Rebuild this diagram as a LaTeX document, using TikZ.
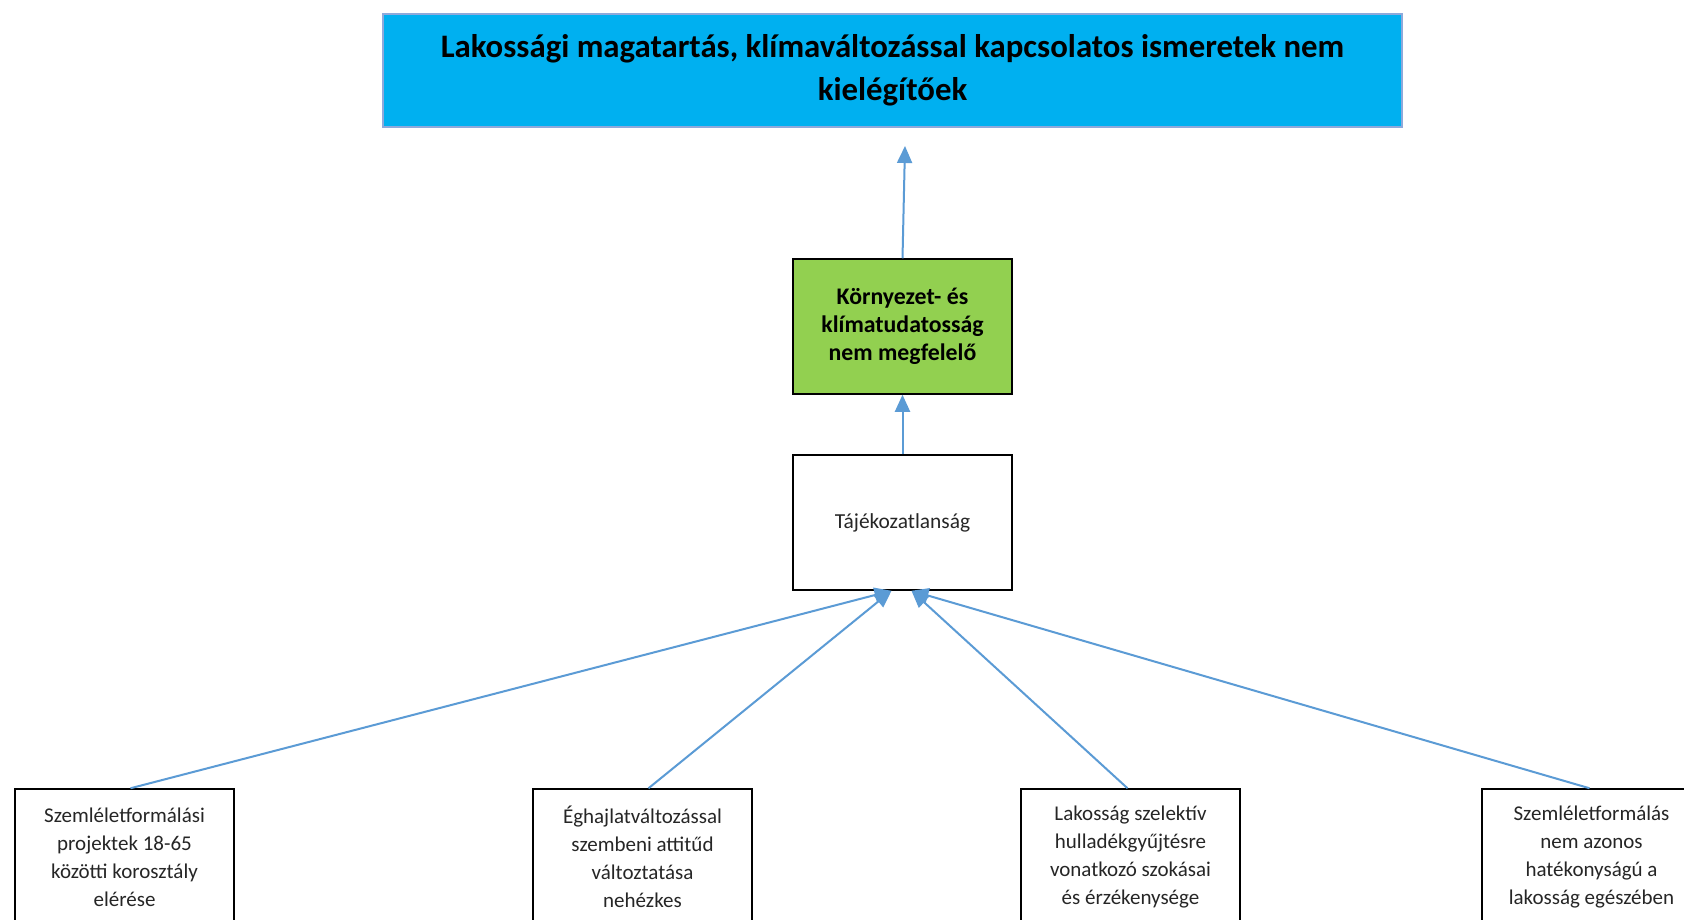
\documentclass[tikz,border=0pt]{standalone}
\usepackage{fontspec}
\setmainfont{Carlito}
\usetikzlibrary{arrows.meta,calc}
\definecolor{linkblue}{HTML}{5B9BD5}
\definecolor{topfill}{HTML}{00B0F0}
\definecolor{topedge}{HTML}{8EA9DB}
\definecolor{greenfill}{HTML}{92D050}
\begin{document}
\begin{tikzpicture}[x=1pt,y=-1pt,
  box/.style={draw=black,line width=1.5pt,inner sep=0pt,align=center,minimum width=219pt},
  link/.style={draw=linkblue,line width=2pt,-{Triangle[length=17pt,width=15pt]}},
  btxt/.style={font=\fontsize{21}{28}\selectfont,text=black!85}
]
\clip (0,0) rectangle (1684,919);
\fill[white] (0,0) rectangle (1684,919);
\node[box,draw=topedge,line width=2pt,fill=topfill,minimum width=1019pt,minimum height=113pt,
  font=\fontsize{32.8}{43}\selectfont\bfseries] (top) at (892.5,70.5)
  {Lakossági magatartás, klímaváltozással kapcsolatos ismeretek nem\\kielégítőek};
\node[box,fill=greenfill,minimum height=135pt,font=\fontsize{23.8}{28}\selectfont\bfseries] (green) at (902.5,326.5)
  {Környezet- és\\klímatudatosság\\nem megfelelő};
\node[box,fill=white,minimum height=135pt,font=\fontsize{21.4}{28}\selectfont,text=black!85] (taj) at (902.5,522.5)
  {Tájékozatlanság};
\node[box,btxt,minimum height=136pt] (b1) at (124.5,857)
  {Szemléletformálási\\projektek 18-65\\közötti korosztály\\elérése};
\node[box,btxt,minimum height=136pt] (b2) at (642.5,857)
  {Éghajlatváltozással\\szembeni attitűd\\változtatása\\nehézkes};
\node[box,btxt,minimum height=136pt] (b3) at (1130.5,857)
  {Lakosság szelektív\\hulladékgyűjtésre\\vonatkozó szokásai\\és érzékenysége};
\node[box,btxt,minimum height=136pt] (b4) at (1591.5,857)
  {Szemléletformálás\\nem azonos\\hatékonyságú a\\lakosság egészében};
\coordinate (t1) at (905,146);
\coordinate (tl) at ($(taj.south)+(-11,0)$);
\coordinate (tr) at ($(taj.south)+(9,0)$);
\draw[link] (green.north) -- (t1);
\draw[link] (taj.north) -- (green.south);
\draw[link] ($(b1.north)+(6,0)$) -- (tl);
\draw[link] ($(b2.north)+(6,0)$) -- (tl);
\draw[link] ($(b3.north)+(-3,0)$) -- (tr);
\draw[link] ($(b4.north)+(-2,0)$) -- (tr);
\end{tikzpicture}
\end{document}
